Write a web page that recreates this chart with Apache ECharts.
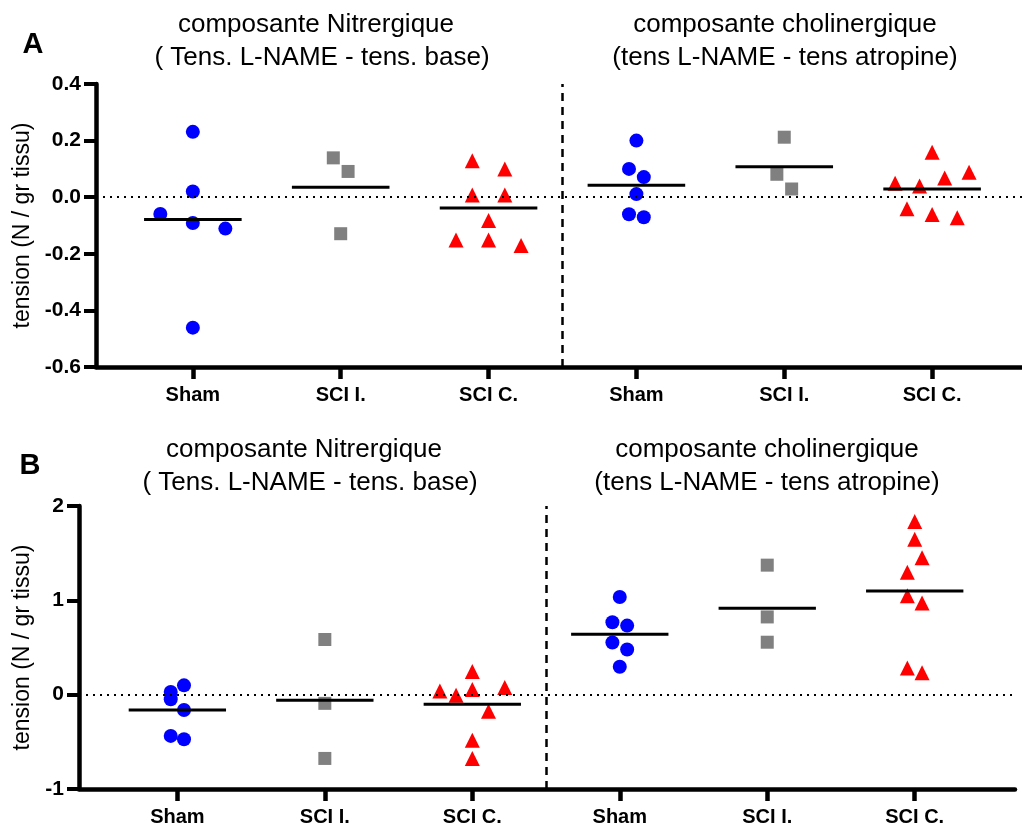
<!DOCTYPE html>
<html>
<head>
<meta charset="utf-8">
<script src="https://cdn.jsdelivr.net/npm/echarts@6/dist/echarts.min.js"></script>
<style>
html,body{margin:0;padding:0;background:#fff;}
#chart{width:1022px;height:827px;}
</style>
</head>
<body>
<div id="chart"></div>
<script>
// ---------- DATA ----------
const categories = ['Sham', 'SCI I.', 'SCI C.', 'Sham', 'SCI I.', 'SCI C.'];
const yTicksA = [-0.6, -0.4, -0.2, 0.0, 0.2, 0.4];
const yTicksB = [-1, 0, 1, 2];
const yAxisName = 'tension (N / gr tissu)';
const titleNitr = ['composante Nitrergique', '( Tens. L-NAME - tens. base)'];
const titleChol = ['composante cholinergique', '(tens L-NAME - tens atropine)'];

// Panel A values (per group)
const A_sham_nitr   = [0.231, 0.020, -0.059, -0.091, -0.111, -0.461];
const A_scii_nitr   = [0.139, 0.091, -0.129];
const A_scic_nitr   = [0.129, 0.100, 0.008, 0.008, -0.082, -0.151, -0.151, -0.171];
const A_sham_chol   = [0.200, 0.100, 0.071, 0.011, -0.060, -0.071];
const A_scii_chol   = [0.212, 0.081, 0.029];
const A_scic_chol   = [0.159, 0.088, 0.068, 0.049, 0.040, -0.041, -0.061, -0.073];
const A_means       = [-0.079, 0.035, -0.038, 0.042, 0.108, 0.029];

// Panel B values (per group)
const B_sham_nitr   = [0.099, 0.028, -0.049, -0.162, -0.437, -0.472];
const B_scii_nitr   = [0.585, -0.092, -0.676];
const B_scic_nitr   = [0.246, 0.077, 0.056, 0.039, -0.007, -0.176, -0.482, -0.676];
const B_sham_chol   = [1.035, 0.768, 0.732, 0.553, 0.479, 0.296];
const B_scii_chol   = [1.373, 0.824, 0.556];
const B_scic_chol   = [1.835, 1.648, 1.451, 1.299, 1.049, 0.972, 0.282, 0.232];
const B_means       = [-0.162, -0.060, -0.102, 0.641, 0.915, 1.099];

// horizontal scatter (jitter) of points within each group, in category units
const A_jit = [
  [0, 0, -0.22, 0, 0.22, 0],
  [-0.05, 0.05, 0],
  [-0.11, 0.11, -0.11, 0.11, 0, -0.22, 0, 0.22],
  [0, -0.05, 0.05, 0, -0.05, 0.05],
  [0, -0.05, 0.05],
  [0, 0.25, 0.085, -0.25, -0.085, -0.17, 0, 0.17]
];
const B_jit = [
  [0.045, -0.045, -0.045, 0.045, -0.045, 0.045],
  [0, 0, 0],
  [0, 0.22, 0, -0.22, -0.11, 0.11, 0, 0],
  [0, -0.05, 0.05, -0.05, 0.05, 0],
  [0, 0, 0],
  [0, 0, 0.05, -0.05, -0.05, 0.05, -0.05, 0.05]
];

// ---------- STYLE ----------
const FONT = '"Liberation Sans", Arial, sans-serif';
const groupStyles = [
  {symbol: 'circle', color: '#0000FF', size: 14},
  {symbol: 'rect', color: '#808080', size: 13},
  {symbol: 'triangle', color: '#FF0000', size: 15}
];
const catIdx = [0, 1, 2, 3, 4, 5];

function xAxisFor(gi, min, max) {
  return {
    type: 'value', gridIndex: gi, min: min, max: max,
    splitLine: {show: false},
    axisLine: {show: true, onZero: false, lineStyle: {color: '#000', width: 4.5}},
    axisTick: {show: true, customValues: catIdx, length: 12, lineStyle: {color: '#000', width: 4.5}},
    axisLabel: {show: true, customValues: catIdx, margin: 18,
      formatter: v => categories[Math.round(v)] || '',
      color: '#000', fontFamily: FONT, fontWeight: 'bold', fontSize: 20}
  };
}
function yAxisFor(gi, ticks, dec, nameGap) {
  return {
    type: 'value', gridIndex: gi,
    min: ticks[0], max: ticks[ticks.length - 1], interval: ticks[1] - ticks[0],
    splitLine: {show: false},
    axisLine: {show: true, onZero: false, lineStyle: {color: '#000', width: 4.5}},
    axisTick: {show: true, length: 12, lineStyle: {color: '#000', width: 4}},
    axisLabel: {margin: 15, color: '#000', fontFamily: FONT, fontWeight: 'bold', fontSize: 21,
      formatter: v => { if (Math.abs(v) < 1e-9) v = 0; return v.toFixed(dec); }},
    name: yAxisName, nameLocation: 'middle', nameGap: nameGap, nameRotate: 90,
    nameTextStyle: {color: '#000', fontFamily: FONT, fontSize: 23}
  };
}

const series = [];
function addPanel(gi, groups, jit, means) {
  groups.forEach((vals, i) => {
    const st = groupStyles[i % 3];
    series.push({
      type: 'scatter', xAxisIndex: gi, yAxisIndex: gi,
      symbol: st.symbol, symbolSize: st.size,
      itemStyle: {color: st.color, opacity: 1},
      data: vals.map((v, k) => [i + jit[i][k], v]),
      z: 3
    });
  });
  means.forEach((m, i) => {
    series.push({
      type: 'line', xAxisIndex: gi, yAxisIndex: gi, symbol: 'none',
      lineStyle: {color: '#000', width: 3},
      data: [[i - 0.33, m], [i + 0.33, m]], z: 4
    });
  });
  // zero line and separator
  series.push({
    type: 'scatter', xAxisIndex: gi, yAxisIndex: gi, data: [], silent: true,
    markLine: {
      silent: true, symbol: ['none', 'none'], label: {show: false}, animation: false,
      data: [
        {yAxis: 0, lineStyle: {color: '#000', width: 2, type: [2, 5]}},
        {xAxis: 2.5, lineStyle: {color: '#000', width: 2.5, type: [8, 6]}}
      ]
    }
  });
}
addPanel(0, [A_sham_nitr, A_scii_nitr, A_scic_nitr, A_sham_chol, A_scii_chol, A_scic_chol], A_jit, A_means);
addPanel(1, [B_sham_nitr, B_scii_nitr, B_scic_nitr, B_sham_chol, B_scii_chol, B_scic_chol], B_jit, B_means);

function txt(text, x, y, size, weight) {
  return {type: 'text', x: x, y: y, silent: true,
    style: {text: text, textAlign: 'center', textVerticalAlign: 'middle',
      font: (weight || 'normal') + ' ' + size + 'px ' + FONT, fill: '#000'}};
}

const option = {
  animation: false,
  backgroundColor: '#fff',
  grid: [
    {left: 96, top: 84, width: 926, height: 283},
    {left: 79, top: 506, width: 936, height: 285}
  ],
  xAxis: [xAxisFor(0, -0.655, 5.608), xAxisFor(1, -0.667, 5.68)],
  yAxis: [yAxisFor(0, yTicksA, 1, 59), yAxisFor(1, yTicksB, 0, 42)],
  series: series,
  graphic: [
    txt('A', 33, 45, 29, 'bold'),
    txt('B', 30, 466, 29, 'bold'),
    txt(titleNitr[0], 316, 25, 26),
    txt(titleNitr[1], 322, 58, 26),
    txt(titleChol[0], 785, 25, 26),
    txt(titleChol[1], 785, 58, 26),
    txt(titleNitr[0], 304, 450, 26),
    txt(titleNitr[1], 310, 483, 26),
    txt(titleChol[0], 767, 450, 26),
    txt(titleChol[1], 767, 483, 26)
  ]
};
const chart = echarts.init(document.getElementById('chart'), null, {renderer: 'canvas'});
chart.setOption(option);
</script>
</body>
</html>
